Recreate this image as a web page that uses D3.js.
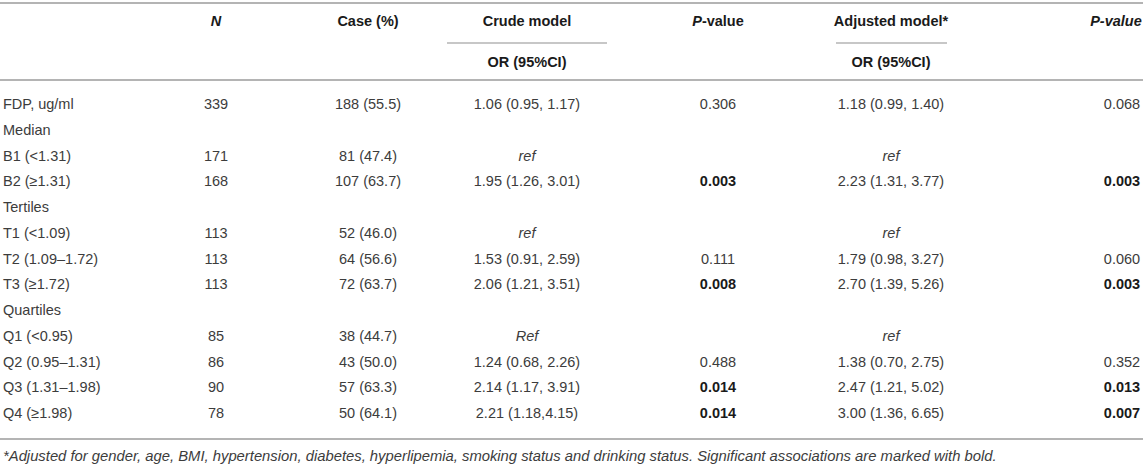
<!DOCTYPE html>
<html>
<head>
<meta charset="utf-8">
<script src="https://cdn.jsdelivr.net/npm/d3@7"></script>
<style>
  html, body { margin: 0; padding: 0; background: #fff; }
  svg { display: block; font-family: "Liberation Sans", Arial, Helvetica, sans-serif; }
</style>
</head>
<body>
<svg id="table"></svg>
<script>
const W = 1143, H = 469;

// table content
const rowLabels = ["FDP, ug/ml", "Median", "B1 (<1.31)", "B2 (≥1.31)", "Tertiles", "T1 (<1.09)",
  "T2 (1.09–1.72)", "T3 (≥1.72)", "Quartiles", "Q1 (<0.95)", "Q2 (0.95–1.31)", "Q3 (1.31–1.98)", "Q4 (≥1.98)"];
const nValues = ["339", "", "171", "168", "", "113", "113", "113", "", "85", "86", "90", "78"];
const caseValues = ["188 (55.5)", "", "81 (47.4)", "107 (63.7)", "", "52 (46.0)", "64 (56.6)", "72 (63.7)",
  "", "38 (44.7)", "43 (50.0)", "57 (63.3)", "50 (64.1)"];
const crudeOR = ["1.06 (0.95, 1.17)", "", "ref", "1.95 (1.26, 3.01)", "", "ref", "1.53 (0.91, 2.59)",
  "2.06 (1.21, 3.51)", "", "Ref", "1.24 (0.68, 2.26)", "2.14 (1.17, 3.91)", "2.21 (1.18,4.15)"];
const crudeP = ["0.306", "", "", "0.003", "", "", "0.111", "0.008", "", "", "0.488", "0.014", "0.014"];
const adjOR = ["1.18 (0.99, 1.40)", "", "ref", "2.23 (1.31, 3.77)", "", "ref", "1.79 (0.98, 3.27)",
  "2.70 (1.39, 5.26)", "", "ref", "1.38 (0.70, 2.75)", "2.47 (1.21, 5.02)", "3.00 (1.36, 6.65)"];
const adjP = ["0.068", "", "", "0.003", "", "", "0.060", "0.003", "", "", "0.352", "0.013", "0.007"];

const footnote = "*Adjusted for gender, age, BMI, hypertension, diabetes, hyperlipemia, smoking status and drinking status. Significant associations are marked with bold.";

const columns = ["n", "case", "crudeOR", "crudeP", "adjOR", "adjP"];
const colData = { n: nValues, case: caseValues, crudeOR: crudeOR, crudeP: crudeP, adjOR: adjOR, adjP: adjP };

const svg = d3.select("#table").attr("width", W).attr("height", H);

const colX = d3.scaleOrdinal()
  .domain(columns)
  .range([216, 368, 527, 718, 891, 1122]);

const rowY = d3.scalePoint()
  .domain(d3.range(rowLabels.length))
  .range([104, 413]);

const ruleColor = "#b4b4b4";
const bodyColor = "#3c3c3c";
const headColor = "#1a1a1a";
const fontSize = 14.5;

function rule(y, x1, x2, w) {
  svg.append("line")
    .attr("x1", x1).attr("x2", x2)
    .attr("y1", y).attr("y2", y)
    .attr("stroke", ruleColor)
    .attr("stroke-width", w || 2);
}

rule(3, 0, W);
rule(80, 0, W);
rule(439, 0, W);
// spanner underlines
rule(43, 447, 607, 1.5);
rule(43, 836, 947, 1.5);

// header
const head = svg.append("g")
  .attr("font-size", fontSize)
  .attr("font-weight", "bold")
  .attr("fill", headColor)
  .attr("text-anchor", "middle");

function headText(x, y, parts) {
  const t = head.append("text").attr("x", x).attr("y", y).attr("dy", "0.35em");
  parts.forEach(p => t.append("tspan").attr("font-style", p[1] ? "italic" : "normal").text(p[0]));
}

headText(colX("n"), 21, [["N", true]]);
headText(colX("case"), 21, [["Case (%)", false]]);
headText(colX("crudeOR"), 21, [["Crude model", false]]);
headText(colX("crudeP"), 21, [["P", true], ["-value", false]]);
headText(colX("adjOR"), 21, [["Adjusted model*", false]]);
headText(1116, 21, [["P-value", true]]);
headText(colX("crudeOR"), 62, [["OR (95%CI)", false]]);
headText(colX("adjOR"), 62, [["OR (95%CI)", false]]);

// body
const body = svg.append("g")
  .attr("font-size", fontSize)
  .attr("fill", bodyColor);

body.selectAll(".row-label")
  .data(rowLabels)
  .join("text")
  .attr("class", "row-label")
  .attr("x", 3)
  .attr("y", (d, i) => rowY(i))
  .attr("dy", "0.35em")
  .text(d => d);

columns.forEach(key => {
  const isP = key === "crudeP" || key === "adjP";
  body.selectAll(".cell-" + key)
    .data(colData[key])
    .join("text")
    .attr("class", "cell-" + key)
    .attr("x", colX(key))
    .attr("y", (d, i) => rowY(i))
    .attr("dy", "0.35em")
    .attr("text-anchor", "middle")
    .attr("font-style", d => /^ref$/i.test(d) ? "italic" : "normal")
    .attr("font-weight", d => isP && d !== "" && +d < 0.05 ? "bold" : "normal")
    .attr("fill", d => isP && d !== "" && +d < 0.05 ? headColor : bodyColor)
    .text(d => d);
});

svg.append("text")
  .attr("x", 3)
  .attr("y", 456)
  .attr("dy", "0.35em")
  .attr("font-size", 14.8)
  .attr("font-style", "italic")
  .attr("fill", bodyColor)
  .text(footnote);
</script>
</body>
</html>
